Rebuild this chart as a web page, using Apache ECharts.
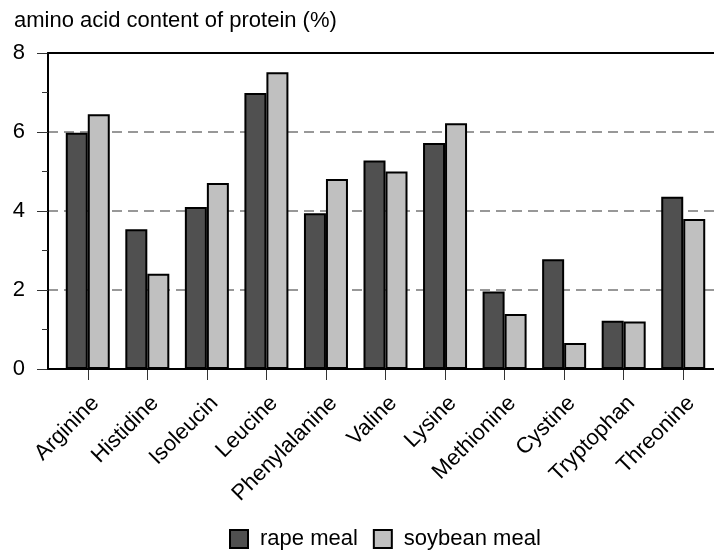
<!DOCTYPE html>
<html>
<head>
<meta charset="utf-8">
<script src="https://cdn.jsdelivr.net/npm/echarts@6/dist/echarts.min.js"></script>
<style>
html,body{margin:0;padding:0;background:#fff;}
#chart{width:714px;height:552px;}
</style>
</head>
<body>
<div id="chart"></div>
<script>
const categories = ['Arginine','Histidine','Isoleucin','Leucine','Phenylalanine','Valine','Lysine','Methionine','Cystine','Tryptophan','Threonine'];
const rapeMeal = [5.98, 3.54, 4.10, 6.99, 3.94, 5.28, 5.72, 1.96, 2.78, 1.22, 4.36];
const soybeanMeal = [6.45, 2.41, 4.71, 7.51, 4.81, 5.00, 6.22, 1.39, 0.66, 1.20, 3.80];

const FONT = 'Liberation Sans, Arial, sans-serif';
const FS = 22;
const chart = echarts.init(document.getElementById('chart'), null, {renderer: 'canvas'});
const frameAxis = (pos) => ({
  type: 'value', gridIndex: 1, min: 0, max: 1, position: pos, z: 5,
  axisLine: {show: true, onZero: false, lineStyle: {color: '#000', width: 2}},
  axisTick: {show: false}, axisLabel: {show: false}, splitLine: {show: false}
});
chart.setOption({
  animation: false,
  backgroundColor: '#fff',
  title: {
    text: 'amino acid content of protein (%)',
    left: 9, top: 5,
    textStyle: {fontFamily: FONT, fontSize: FS, fontWeight: 'normal', color: '#000'}
  },
  legend: {
    data: ['rape meal', 'soybean meal'],
    bottom: -3,
    left: 224,
    itemWidth: 18, itemHeight: 18, itemGap: 15,
    icon: 'rect',
    textStyle: {fontFamily: FONT, fontSize: FS, color: '#000', padding: [0, 0, 0, 7]}
  },
  grid: [
    {left: 58, right: 1, top: 53, bottom: 183, containLabel: false},
    {left: 48, right: -4, top: 53, bottom: 183}
  ],
  xAxis: [
    {
      type: 'category', data: categories, gridIndex: 0,
      axisLine: {show: false},
      axisTick: {show: true, alignWithLabel: true, length: 11, lineStyle: {color: '#333', width: 1}},
      axisLabel: {rotate: 45, verticalAlign: 'top', fontFamily: FONT, fontSize: FS, color: '#000', margin: 23, interval: 0}
    },
    frameAxis('bottom'),
    frameAxis('top')
  ],
  yAxis: [
    {type: 'value', gridIndex: 0, min: 0, max: 8, interval: 2, show: false},
    {
      type: 'value', gridIndex: 1, min: 0, max: 8, interval: 2,
      axisLine: {show: true, lineStyle: {color: '#000', width: 2}},
      axisTick: {show: true, length: 11, lineStyle: {color: '#333', width: 1}},
      minorTick: {show: true, splitNumber: 2, length: 6, lineStyle: {color: '#333', width: 1}},
      axisLabel: {fontFamily: FONT, fontSize: FS, color: '#000', margin: 23},
      splitLine: {show: true, lineStyle: {color: '#777', width: 1.5, type: [10, 6]}}
    }
  ],
  series: [
    {
      name: 'rape meal', type: 'bar', xAxisIndex: 0, yAxisIndex: 0,
      data: rapeMeal, barWidth: 22, barGap: '0%',
      itemStyle: {color: '#505050', borderColor: '#000', borderWidth: 2}
    },
    {
      name: 'soybean meal', type: 'bar', xAxisIndex: 0, yAxisIndex: 0,
      data: soybeanMeal, barWidth: 22, barGap: '0%',
      itemStyle: {color: '#c0c0c0', borderColor: '#000', borderWidth: 2}
    }
  ]
});
</script>
</body>
</html>
